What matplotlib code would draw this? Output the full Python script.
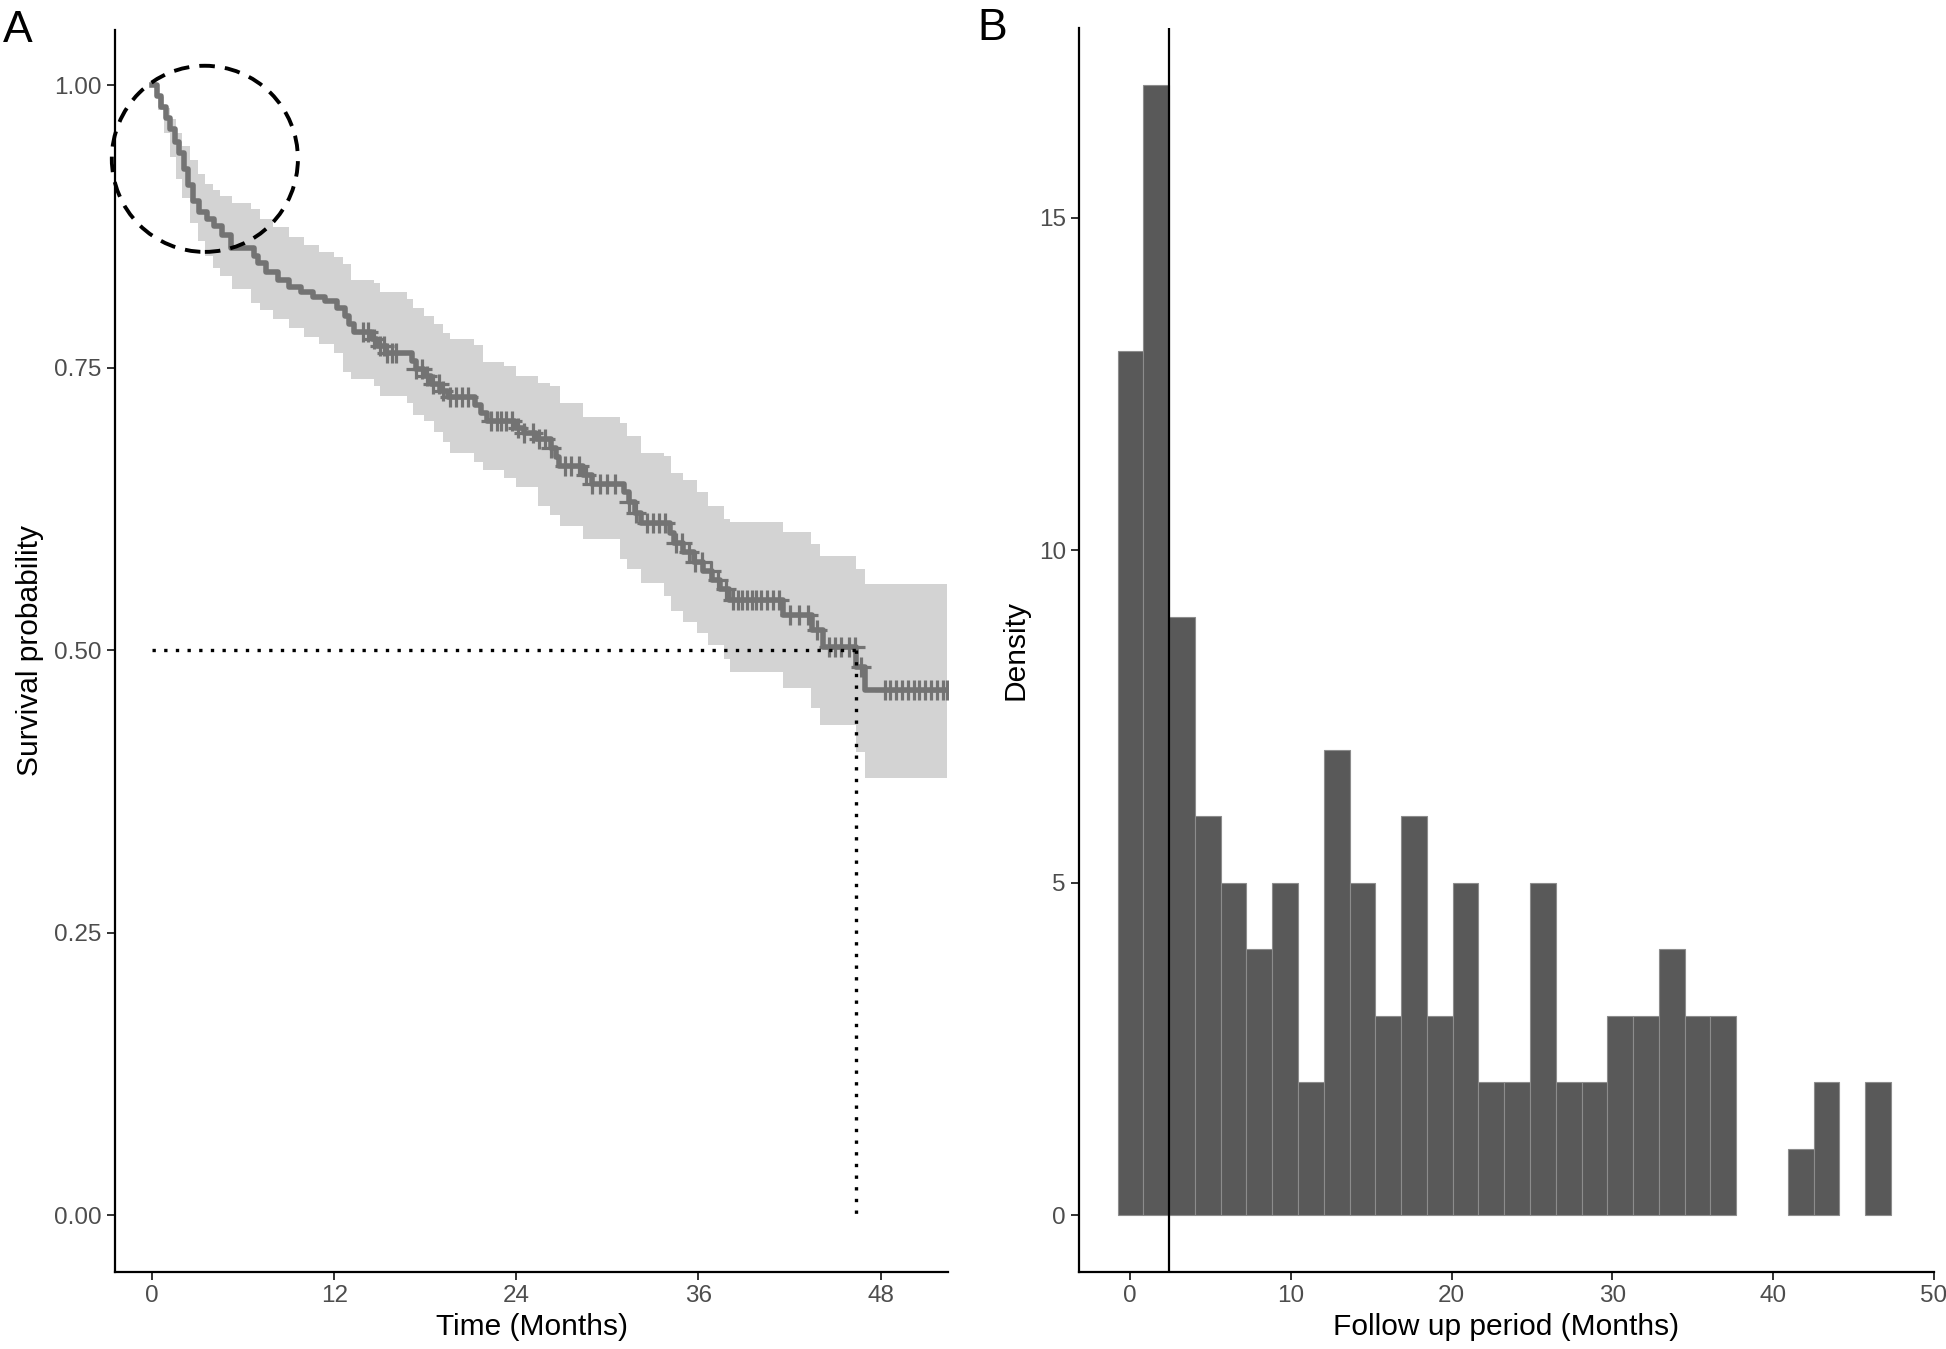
import numpy as np
import matplotlib
matplotlib.use("Agg")
import matplotlib.pyplot as plt
from matplotlib.patches import Ellipse

plt.rcParams['font.family'] = ['Liberation Sans', 'DejaVu Sans']

# ---------------- Panel A data: Kaplan-Meier curve ----------------
event_times = [0.3, 0.6, 0.9, 1.2, 1.5, 1.8, 2.1, 2.4, 2.7, 3.1, 3.6, 4.1, 4.6, 5.2,
               6.7, 7.0, 7.5, 8.3, 9.0, 9.8, 10.6, 11.4, 12.2, 12.7, 13.0, 13.3,
               14.5, 14.8, 15.4, 17.1, 17.4, 17.9, 18.4, 19.0, 19.5, 21.3, 21.7,
               22.1, 23.9, 24.5, 25.3, 26.3, 26.6, 26.8, 28.4, 29.0, 31.1, 31.4,
               31.8, 32.2, 34.1, 34.4, 35.0, 35.7, 36.3, 36.9, 37.4, 38.0, 41.6,
               43.5, 44.2, 46.35, 47.0]
surv_values = [0.991, 0.981, 0.971, 0.961, 0.950, 0.940, 0.926, 0.912, 0.898, 0.888,
               0.882, 0.876, 0.868, 0.856, 0.849, 0.843, 0.835, 0.828, 0.822, 0.817,
               0.813, 0.809, 0.803, 0.796, 0.789, 0.782, 0.776, 0.769, 0.763, 0.756,
               0.749, 0.743, 0.736, 0.730, 0.724, 0.717, 0.710, 0.703, 0.697, 0.692,
               0.687, 0.679, 0.671, 0.663, 0.655, 0.647, 0.640, 0.631, 0.622, 0.613,
               0.604, 0.595, 0.587, 0.578, 0.570, 0.562, 0.554, 0.545, 0.531, 0.518,
               0.503, 0.485, 0.465]
max_time = 52.4

censor_times = [13.9, 14.2, 14.6, 15.0, 15.3, 15.5, 15.8, 16.1, 17.4, 17.8, 18.1, 18.5,
                18.9, 19.2, 19.6, 20.0, 20.4, 20.8, 22.3, 22.7, 23.0, 23.3, 23.7, 24.1,
                24.5, 25.1, 25.5, 25.9, 26.3, 27.2, 27.6, 28.1, 28.6, 29.0, 29.5, 30.0,
                30.5, 31.4, 31.9, 32.6, 33.0, 33.4, 33.8, 34.5, 34.9, 35.4, 35.8, 36.2,
                36.8, 37.3, 37.8, 38.3, 38.6, 38.9, 39.2, 39.5, 39.8, 40.1, 40.5, 40.9,
                41.3, 42.0, 42.6, 43.2, 43.8, 44.6, 45.0, 45.4, 45.9, 46.3, 46.7, 48.3,
                48.6, 49.0, 49.4, 49.8, 50.2, 50.5, 50.9, 51.3, 51.7, 52.1, 52.4]

band_times = [0, 0.4, 0.8, 1.2, 1.6, 2.0, 2.5, 3.0, 3.5, 4.0, 4.5, 5.3, 6.5, 7.1, 8.0,
              9.0, 10.0, 11.0, 12.0, 12.6, 13.1, 14.6, 15.0, 16.8, 17.2, 17.9, 18.6,
              19.2, 19.6, 21.2, 21.8, 23.2, 24.0, 25.4, 26.2, 26.9, 28.4, 30.8, 31.3,
              32.2, 33.7, 34.2, 35.0, 35.9, 36.6, 37.7, 38.1, 41.6, 43.4, 44.0, 46.35,
              47.0, 52.4]
band_upper = [1.0, 0.99, 0.98, 0.97, 0.958, 0.946, 0.934, 0.922, 0.913, 0.907, 0.902,
              0.896, 0.891, 0.882, 0.875, 0.866, 0.859, 0.853, 0.848, 0.842, 0.828,
              0.825, 0.817, 0.811, 0.803, 0.796, 0.789, 0.781, 0.776, 0.770, 0.755,
              0.752, 0.743, 0.737, 0.734, 0.719, 0.707, 0.701, 0.690, 0.675, 0.672,
              0.657, 0.651, 0.640, 0.628, 0.616, 0.614, 0.605, 0.594, 0.584, 0.572,
              0.559, 0.559]
band_lower = [1.0, 0.978, 0.958, 0.937, 0.917, 0.900, 0.878, 0.862, 0.849, 0.838, 0.831,
              0.820, 0.807, 0.801, 0.793, 0.785, 0.777, 0.771, 0.763, 0.746, 0.740,
              0.734, 0.725, 0.719, 0.708, 0.703, 0.693, 0.684, 0.675, 0.667, 0.660,
              0.653, 0.645, 0.628, 0.620, 0.610, 0.599, 0.581, 0.572, 0.560, 0.548,
              0.535, 0.525, 0.515, 0.505, 0.492, 0.481, 0.467, 0.449, 0.434, 0.410,
              0.387, 0.387]

median_survival = 46.35
median_level = 0.5
circle_center = (3.48, 0.935)

x_ticks_a = [0, 12, 24, 36, 48]
y_ticks_a = [0.00, 0.25, 0.50, 0.75, 1.00]
y_ticklabels_a = ["0.00", "0.25", "0.50", "0.75", "1.00"]

# ---------------- Panel B data: histogram ----------------
hist_counts = [13, 17, 9, 6, 5, 4, 5, 2, 7, 5, 3, 6, 3, 5, 2, 2, 5, 2, 2, 3,
               3, 4, 3, 3, 0, 0, 1, 2, 0, 2]
hist_start = -0.77
hist_binwidth = 1.603
vline_x = 2.41
x_ticks_b = [0, 10, 20, 30, 40, 50]
y_ticks_b = [0, 5, 10, 15]

# ---------------- figure ----------------
W, H = 1946, 1349
fig = plt.figure(figsize=(W / 100, H / 100), dpi=100)

tick_col = '#4d4d4d'
tick_fs = 17.5
title_fs = 21.5

axA = fig.add_axes([115 / W, 1 - 1272 / H, (948 - 115) / W, (1272 - 30) / H])
axB = fig.add_axes([1079 / W, 1 - 1272 / H, (1934 - 1079) / W, (1272 - 28) / H])

for ax in (axA, axB):
    for s in ('top', 'right'):
        ax.spines[s].set_visible(False)
    for s in ('left', 'bottom'):
        ax.spines[s].set_linewidth(1.6)
        ax.spines[s].set_color('black')
    ax.tick_params(axis='both', length=5.5, width=1.4, color='#333333',
                   labelsize=tick_fs, labelcolor=tick_col, pad=4)

# Panel A
bt = np.array(band_times)
axA.fill_between(bt, band_lower, band_upper, step='post', color='#d3d3d3',
                 linewidth=0, zorder=1)
t_step = np.concatenate([[0.0], event_times, [max_time]])
s_step = np.concatenate([[1.0], surv_values, [surv_values[-1]]])
km_col = '#737373'
axA.step(t_step, s_step, where='post', color=km_col, lw=4.0, zorder=3)
et = np.array(event_times)
sv = np.array(surv_values)
ct = np.array(censor_times)
idx = np.searchsorted(et, ct, side='right') - 1
cs = np.where(idx >= 0, sv[np.clip(idx, 0, None)], 1.0)
axA.plot(ct, cs, linestyle='none', marker='+', markersize=14, markeredgewidth=2.3,
         color=km_col, zorder=4)

axA.plot([0, median_survival], [median_level, median_level], color='black', lw=2.4,
         linestyle=(0, (1, 2.5)), dash_capstyle='butt', zorder=5)
axA.plot([median_survival, median_survival], [median_level, 0], color='black', lw=2.4,
         linestyle=(0, (1, 2.5)), dash_capstyle='butt', zorder=5)

circ = Ellipse(circle_center, width=12.26, height=0.1647, fill=False, edgecolor='black',
               lw=2.8, linestyle=(0, (4, 2.6)), zorder=6, clip_on=False)
axA.add_patch(circ)

axA.set_xlim(-2.44, 52.44)
axA.set_ylim(-0.05, 1.049)
axA.set_xticks(x_ticks_a)
axA.set_yticks(y_ticks_a)
axA.set_yticklabels(y_ticklabels_a)
axA.set_xlabel('Time (Months)', fontsize=title_fs, color='black')
axA.set_ylabel('Survival probability', fontsize=title_fs, color='black')
axA.xaxis.set_label_coords(0.5, -0.033)
axA.yaxis.set_label_coords(-0.085, 0.5)

# Panel B
counts = np.array(hist_counts)
edges = hist_start + hist_binwidth * np.arange(len(counts))
mask = counts > 0
axB.bar(edges[mask], counts[mask], width=hist_binwidth, align='edge', color='#595959',
        edgecolor='#8c8c8c', linewidth=0.8, zorder=2)
axB.axvline(vline_x, color='black', lw=1.6, zorder=3)
axB.set_xlim(-3.17, 49.74)
axB.set_ylim(-0.85, 17.85)
axB.set_xticks(x_ticks_b)
axB.set_yticks(y_ticks_b)
axB.set_xlabel('Follow up period (Months)', fontsize=title_fs, color='black')
axB.set_ylabel('Density', fontsize=title_fs, color='black')
axB.xaxis.set_label_coords(0.5, -0.033)
axB.yaxis.set_label_coords(-0.058, 0.5)
for lab in axB.get_xticklabels():
    lab.set_clip_on(False)

fig.text(3 / W, 1 - 42 / H, 'A', fontsize=32, ha='left', va='baseline')
fig.text(977 / W, 1 - 40 / H, 'B', fontsize=32, ha='left', va='baseline')

fig.savefig('out.png', dpi=100)
